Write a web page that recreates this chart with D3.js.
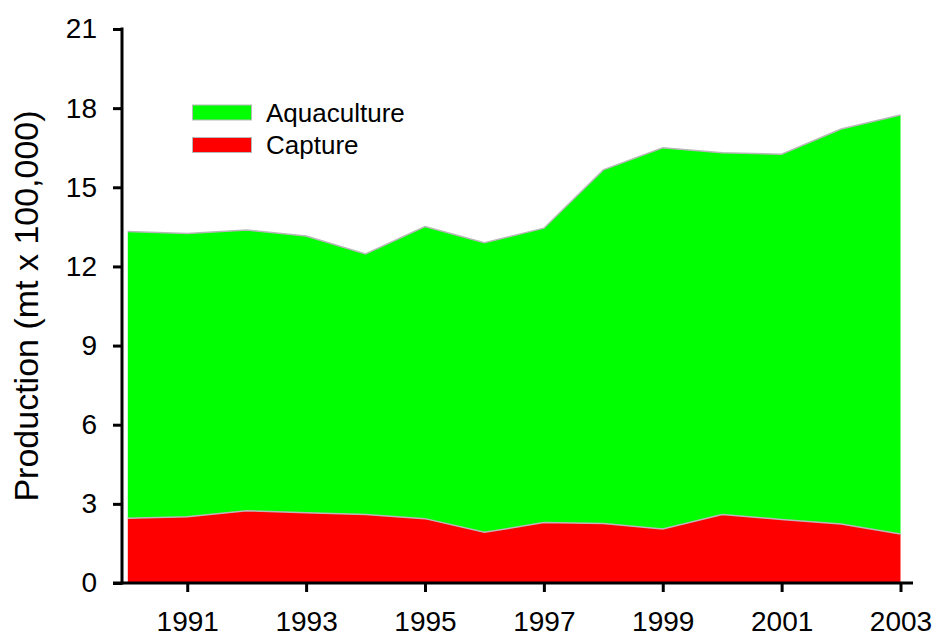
<!DOCTYPE html>
<html>
<head>
<meta charset="utf-8">
<script src="https://cdn.jsdelivr.net/npm/d3@7"></script>
<style>
  body { margin: 0; background: #fff; }
  svg { display: block; font-family: "Liberation Sans", Arial, sans-serif; }
</style>
</head>
<body>
<div id="chart"></div>
<script>
// data (units: mt x 100,000)
var years = [1990, 1991, 1992, 1993, 1994, 1995, 1996, 1997, 1998, 1999, 2000, 2001, 2002, 2003];
var capture = [2.45, 2.51, 2.74, 2.66, 2.60, 2.44, 1.92, 2.29, 2.26, 2.05, 2.60, 2.41, 2.24, 1.86];
var aquaculture = [10.87, 10.74, 10.64, 10.49, 9.87, 11.07, 10.98, 11.16, 13.40, 14.45, 13.71, 13.84, 14.97, 15.88];
var yTicks = [0, 3, 6, 9, 12, 15, 18, 21];
var xTicks = [1991, 1993, 1995, 1997, 1999, 2001, 2003];
var seriesNames = ["Capture", "Aquaculture"];
var seriesColors = ["#ff0000", "#00ff00"];

var width = 936, height = 637;

var svg = d3.select("#chart")
    .append("svg")
    .attr("width", width)
    .attr("height", height);

var x = d3.scaleLinear().domain([1990, 2003]).range([127.8, 900.5]);
var y = d3.scaleLinear().domain([0, 21]).range([583, 29]);

var table = years.map(function(yr, i) {
    return { year: yr, Capture: capture[i], Aquaculture: aquaculture[i] };
});

var stack = d3.stack().keys(seriesNames);
var layers = stack(table);

var area = d3.area()
    .x(function(d) { return x(d.data.year); })
    .y0(function(d) { return y(d[0]); })
    .y1(function(d) { return y(d[1]); });

var topLine = d3.line()
    .x(function(d) { return x(d.data.year); })
    .y(function(d) { return y(d[1]); });

svg.append("g")
    .selectAll("path")
    .data(layers)
    .enter().append("path")
    .attr("d", area)
    .attr("fill", function(d, i) { return seriesColors[i]; });

// thin grey edge along the top of each band
svg.append("g")
    .selectAll("path")
    .data(layers)
    .enter().append("path")
    .attr("d", topLine)
    .attr("fill", "none")
    .attr("stroke", "#b8b8b8")
    .attr("stroke-width", 1.5);

// y axis
var yAxis = svg.append("g")
    .attr("transform", "translate(122,0)")
    .call(d3.axisLeft(y).tickValues(yTicks).tickSize(9).tickPadding(16).tickSizeOuter(0));

// x axis
var xAxis = svg.append("g")
    .attr("transform", "translate(0,583)")
    .call(d3.axisBottom(x).tickValues(xTicks).tickFormat(d3.format("d")).tickSize(9).tickPadding(19).tickSizeOuter(0));

[yAxis, xAxis].forEach(function(g) {
    g.select(".domain").remove();
    g.selectAll(".tick line").attr("stroke", "#000").attr("stroke-width", 3);
    g.selectAll(".tick text")
        .attr("fill", "#000")
        .style("font-size", "28px")
        .style("font-family", "'Liberation Sans', Arial, sans-serif");
});

// axis lines
svg.append("line")
    .attr("x1", 122).attr("x2", 122)
    .attr("y1", y(21) - 1.5).attr("y2", 584.5)
    .attr("stroke", "#000").attr("stroke-width", 3);
svg.append("line")
    .attr("x1", 113).attr("x2", 913)
    .attr("y1", 583).attr("y2", 583)
    .attr("stroke", "#000").attr("stroke-width", 3);

// y axis title
svg.append("text")
    .attr("transform", "translate(38,306) rotate(-90)")
    .attr("text-anchor", "middle")
    .style("font-size", "34px")
    .text("Production (mt x 100,000)");

// legend
var legendItems = [
    { name: "Aquaculture", color: seriesColors[1], top: 105 },
    { name: "Capture", color: seriesColors[0], top: 137.5 }
];
var legend = svg.append("g").selectAll("g")
    .data(legendItems)
    .enter().append("g");

legend.append("rect")
    .attr("x", 192.5)
    .attr("y", function(d) { return d.top; })
    .attr("width", 59)
    .attr("height", 15)
    .attr("fill", function(d) { return d.color; })
    .attr("stroke", "#b8b8b8")
    .attr("stroke-width", 1);

legend.append("text")
    .attr("x", 266)
    .attr("y", function(d) { return d.top + 16.5; })
    .style("font-size", "26px")
    .text(function(d) { return d.name; });
</script>
</body>
</html>
